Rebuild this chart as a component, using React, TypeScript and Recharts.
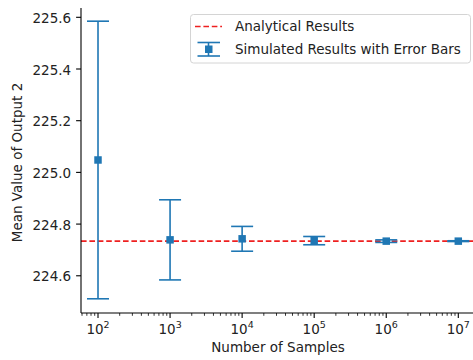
import React from 'react'
import { ComposedChart, Scatter, XAxis, YAxis, ZAxis, ErrorBar, ReferenceLine } from 'recharts'

// values
const sampleCounts = [1e2, 1e3, 1e4, 1e5, 1e6, 1e7]
const meanValues = [225.048, 224.739, 224.743, 224.736, 224.734, 224.734]
const errorHalfWidths = [0.537, 0.155, 0.048, 0.016, 0.005, 0.0015]
const analyticalValue = 224.734
const yTicks = [224.6, 224.8, 225.0, 225.2, 225.4, 225.6]
const decadeExps = [1, 2, 3, 4, 5, 6, 7]
const minorMults = [2, 3, 4, 5, 6, 7, 8, 9]

const BLUE = '#1f77b4'
const RED = '#ee2020'
const INK = '#222'
const FONT = '"DejaVu Sans", sans-serif'
const FS = 13.5

const xDomain: [number, number] = [Math.pow(10, 1.764), Math.pow(10, 7.204)]
const yDomain: [number, number] = [224.456, 225.636]

const data = sampleCounts.map((x, i) => ({ x, y: meanValues[i], err: errorHalfWidths[i] }))

const xTicks: number[] = []
decadeExps.forEach(k => {
  const base = Math.pow(10, k)
  if (base >= xDomain[0] && base <= xDomain[1]) xTicks.push(base)
  minorMults.forEach(m => {
    const v = m * base
    if (v >= xDomain[0] && v <= xDomain[1]) xTicks.push(v)
  })
})

const XTick = (props: any) => {
  const { x, y, payload } = props
  const lg = Math.log10(payload.value)
  const exp = Math.round(lg)
  const major = Math.abs(lg - exp) < 1e-6
  return (
    <g>
      <line x1={x} x2={x} y1={y} y2={y + (major ? 4.9 : 2.8)} stroke="#000" strokeWidth={major ? 1.1 : 0.8} />
      {major && (
        <text x={x} y={y + 20.5} textAnchor="middle" fontFamily={FONT} fontSize={FS} fill={INK}>
          <tspan>10</tspan>
          <tspan dy={-6} fontSize={9.5}>{exp}</tspan>
        </text>
      )}
    </g>
  )
}

const YTick = (props: any) => {
  const { x, y, payload } = props
  return (
    <g>
      <line x1={x - 4.9} x2={x} y1={y} y2={y} stroke="#000" strokeWidth={1.1} />
      <text x={x - 9.8} y={y + 5.5} textAnchor="end" fontFamily={FONT} fontSize={FS} fill={INK}>
        {Number(payload.value).toFixed(1)}
      </text>
    </g>
  )
}

export default function App() {
  return (
    <div style={{ position: 'absolute', left: 0, top: 0, width: 473, height: 360, background: '#fff' }}>
      <ComposedChart width={473} height={360} data={data} margin={{ top: 8, right: 0, bottom: 0, left: 0 }}>
        <XAxis dataKey="x" type="number" scale="log" domain={xDomain} allowDataOverflow ticks={xTicks}
          interval={0} tick={<XTick />} tickLine={false} tickSize={0} tickMargin={0} height={47}
          axisLine={{ stroke: '#000', strokeWidth: 1.1 }} />
        <XAxis xAxisId="top" orientation="top" type="number" scale="log" domain={xDomain} allowDataOverflow
          height={0} tick={false} tickLine={false} axisLine={{ stroke: '#000', strokeWidth: 1.1 }} />
        <YAxis type="number" domain={yDomain} allowDataOverflow ticks={yTicks} interval={0} width={81}
          tick={<YTick />} tickLine={false} tickSize={0} tickMargin={0}
          axisLine={{ stroke: '#000', strokeWidth: 1.1 }} />
        <ZAxis range={[56, 56]} />
        <ReferenceLine y={analyticalValue} stroke={RED} strokeWidth={1.6} strokeDasharray="5.6 2.8" />
        <Scatter dataKey="y" fill={BLUE} shape="square" isAnimationActive={false}>
          <ErrorBar dataKey="err" direction="y" width={11} stroke={BLUE} strokeWidth={1.6} isAnimationActive={false} />
        </Scatter>
      </ComposedChart>
      <svg width={473} height={360} style={{ position: 'absolute', left: 0, top: 0, pointerEvents: 'none' }}>
        <text x={278} y={352} textAnchor="middle" fontFamily={FONT} fontSize={FS} fill={INK}>Number of Samples</text>
        <text transform="translate(22,162.5) rotate(-90)" textAnchor="middle" fontFamily={FONT} fontSize={FS} fill={INK}>
          Mean Value of Output 2
        </text>
        <rect x={190.5} y={14.5} width={280} height={48.5} rx={3} fill="rgba(255,255,255,0.8)" stroke="#d4d4d4" strokeWidth={1} />
        <line x1={195} x2={222} y1={26.5} y2={26.5} stroke={RED} strokeWidth={1.6} strokeDasharray="5.6 2.8" />
        <text x={235} y={30.5} fontFamily={FONT} fontSize={FS} fill={INK}>Analytical Results</text>
        <line x1={208.5} x2={208.5} y1={42.5} y2={56} stroke={BLUE} strokeWidth={1.6} />
        <line x1={197.5} x2={220} y1={42.5} y2={42.5} stroke={BLUE} strokeWidth={1.6} />
        <line x1={197.5} x2={220} y1={56} y2={56} stroke={BLUE} strokeWidth={1.6} />
        <rect x={205} y={45.5} width={7.5} height={7.5} fill={BLUE} />
        <text x={235} y={53.5} fontFamily={FONT} fontSize={FS} fill={INK}>Simulated Results with Error Bars</text>
      </svg>
    </div>
  )
}
